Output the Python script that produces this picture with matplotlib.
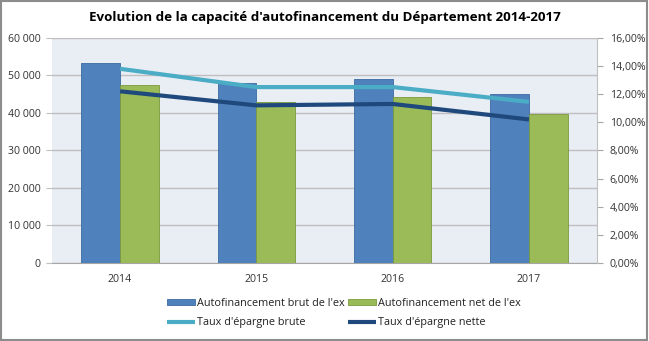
import matplotlib
matplotlib.use("Agg")
import matplotlib.pyplot as plt
from matplotlib.patches import Rectangle
from matplotlib.ticker import FuncFormatter, MultipleLocator
import numpy as np

years = ["2014", "2015", "2016", "2017"]
autofin_brut = [53400, 47900, 49000, 45000]
autofin_net = [47500, 42800, 44100, 39600]
taux_brute = [13.8, 12.5, 12.5, 11.45]
taux_nette = [12.2, 11.2, 11.3, 10.2]

plt.rcParams['font.family'] = ['Open Sans', 'DejaVu Sans']

fig = plt.figure(figsize=(6.49, 3.41), dpi=100)
fig.patch.set_facecolor("white")
fig.add_artist(Rectangle((0.002, 0.003), 0.995, 0.993, transform=fig.transFigure,
                         fill=False, edgecolor="#8c8c8c", linewidth=1.5))

ax = fig.add_axes([0.080, 0.229, 0.840, 0.660])
ax.set_facecolor("#E9EDF4")
x = np.arange(len(years))
w = 0.285
ax.bar(x - w / 2, autofin_brut, w, color="#4F81BD", edgecolor="#3B6AA0", linewidth=0.6,
       label="Autofinancement brut de l'ex", zorder=3)
ax.bar(x + w / 2, autofin_net, w, color="#9BBB59", edgecolor="#7A9A3E", linewidth=0.6,
       label="Autofinancement net de l'ex", zorder=3)
ax.set_xlim(-0.5, 3.5)
ax.set_ylim(0, 60000)
ax.yaxis.set_major_locator(MultipleLocator(10000))
ax.yaxis.set_major_formatter(FuncFormatter(lambda v, p: f"{int(v):,}".replace(",", " ")))
ax.grid(axis="y", color="#BFBFBF", linewidth=1.0, zorder=0)
ax.set_axisbelow(True)
ax.set_xticks(x)
ax.set_xticklabels(years)
for s in ["top", "right", "left"]:
    ax.spines[s].set_visible(False)
ax.spines["bottom"].set_color("#A6A6A6")
ax.tick_params(axis="y", length=4, color="#BFBFBF", labelsize=7.6, labelcolor="#333333", pad=4)
ax.tick_params(axis="x", length=0, labelsize=7.6, labelcolor="#333333", pad=8)

ax2 = ax.twinx()
ax2.plot(x, taux_brute, color="#4BACC6", linewidth=3, label="Taux d'épargne brute",
         solid_capstyle="butt", zorder=4)
ax2.plot(x, taux_nette, color="#1F497D", linewidth=3, label="Taux d'épargne nette",
         solid_capstyle="butt", zorder=4)
ax2.set_ylim(0, 16)
ax2.yaxis.set_major_locator(MultipleLocator(2))
ax2.yaxis.set_major_formatter(FuncFormatter(lambda v, p: f"{v:.2f}".replace(".", ",") + "%"))
for s in ["top", "left", "bottom"]:
    ax2.spines[s].set_visible(False)
ax2.spines["right"].set_color("#BFBFBF")
ax2.tick_params(axis="y", length=4, color="#A6A6A6", labelsize=7.6, labelcolor="#333333", pad=5)

fig.text(0.5, 0.948, "Evolution de la capacité d'autofinancement du Département 2014-2017",
         ha="center", va="center", fontsize=9.6, fontweight="bold", color="#000000")

h1, l1 = ax.get_legend_handles_labels()
h2, l2 = ax2.get_legend_handles_labels()
handles = [h1[0], h2[0], h1[1], h2[1]]
labels = [l1[0], l2[0], l1[1], l2[1]]
leg = fig.legend(handles, labels, ncol=2, loc="center", bbox_to_anchor=(0.53, 0.082),
                 frameon=False, fontsize=7.8, handlelength=2.6, handleheight=0.5,
                 handletextpad=0.2, columnspacing=0.3, labelspacing=0.75)
for t in leg.get_texts():
    t.set_color("#222222")

fig.savefig("out.png", dpi=100)
